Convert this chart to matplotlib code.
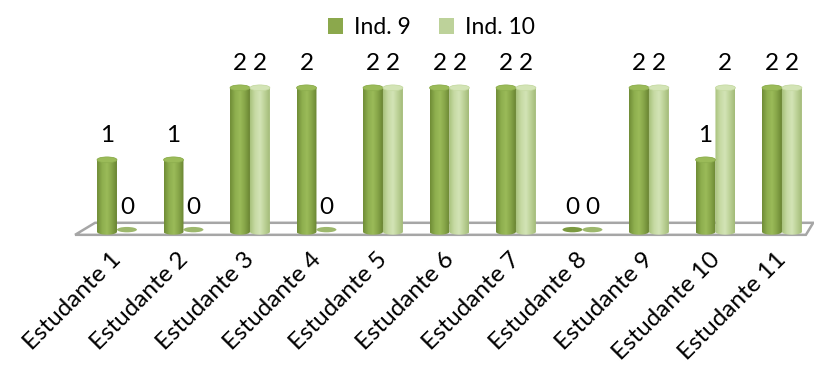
import numpy as np
import matplotlib.pyplot as plt
from matplotlib.patches import Polygon, Ellipse, Patch
from matplotlib.colors import LinearSegmentedColormap

plt.rcParams['font.family'] = ['Lato', 'DejaVu Sans']

students = ["Estudante %d" % (i + 1) for i in range(11)]
ind9 = [1, 1, 2, 2, 2, 2, 2, 0, 2, 1, 2]
ind10 = [0, 0, 2, 0, 2, 2, 2, 0, 2, 2, 2]
series_names = ["Ind. 9", "Ind. 10"]

# colours: flat legend colour, gradient across the cylinder, flat "zero" disc
flat_colors = ["#8BA84C", "#BDD29A"]
grad_colors = [
    ["#6F8C36", "#8DAE4E", "#9BBB59", "#86A548", "#6A8533"],
    ["#A8C27C", "#C6DAA3", "#D3E4B6", "#BCD196", "#A3BB78"],
]
zero_colors = ["#7B9A40", "#9DB86D"]

bar_w = 0.3
ell_h = 0.08
fs = 17.5

fig = plt.figure(figsize=(8.14, 3.69), dpi=100)
ax = fig.add_axes([0.0906, 0.3523, 0.9068, 0.4878])


def cylinder(ax, xc, h, colors):
    cmap = LinearSegmentedColormap.from_list("g", colors)
    x0, x1 = xc - bar_w / 2, xc + bar_w / 2
    t = np.linspace(0, np.pi, 40)
    # outline: bottom half ellipse, right side, top half ellipse, left side
    bx = xc - np.cos(t) * bar_w / 2
    by = -np.sin(t) * ell_h / 2
    tx = xc + np.cos(t) * bar_w / 2
    ty = h + np.sin(t) * ell_h / 2
    pts = np.column_stack([np.concatenate([bx, tx]), np.concatenate([by, ty])])
    clip = Polygon(pts, closed=True, facecolor="none", edgecolor="none")
    ax.add_patch(clip)
    grad = np.linspace(0, 1, 64).reshape(1, -1)
    im = ax.imshow(grad, cmap=cmap, extent=[x0, x1, -ell_h, h + ell_h],
                   aspect="auto", zorder=3, interpolation="bilinear")
    im.set_clip_path(clip)
    top = Ellipse((xc, h), bar_w, ell_h, facecolor=colors[2], edgecolor=colors[1],
                  lw=0.5, zorder=4)
    ax.add_patch(top)


# floor
xl, xr = -0.65, 10.45
floor = Polygon([[-0.63, -0.042], [-0.33, 0.125], [10.47, 0.125], [10.36, -0.042]],
                closed=True, facecolor="white", edgecolor="#A6A6A6", lw=1.8,
                zorder=1, clip_on=False)
ax.add_patch(floor)

for s, vals in enumerate([ind9, ind10]):
    off = -bar_w / 2 if s == 0 else bar_w / 2
    for i, v in enumerate(vals):
        xc = i + off
        if v > 0:
            cylinder(ax, xc, v, grad_colors[s])
        else:
            ax.add_patch(Ellipse((xc, 0.03), bar_w, 0.075, facecolor=zero_colors[s],
                                 edgecolor="none", zorder=2))
        ax.text(xc, v + 0.34, str(v), ha="center", va="center", fontsize=fs,
                color="black", zorder=5)

ax.set_xlim(xl, xr)
ax.set_ylim(-0.1, 2.4)
ax.set_yticks([])
ax.set_xticks(np.arange(len(students)) - 0.1)
ax.set_xticklabels(students, rotation=45, ha="right", rotation_mode="anchor",
                   fontsize=fs)
ax.tick_params(axis="x", length=0, pad=7)
for sp in ax.spines.values():
    sp.set_visible(False)
ax.patch.set_alpha(0)

handles = [Patch(facecolor=flat_colors[k], edgecolor="none", label=series_names[k])
           for k in range(2)]
fig.legend(handles=handles, loc="upper center", bbox_to_anchor=(0.53, 1.01), ncol=2,
           frameon=False, fontsize=16.5, handlelength=0.65, handleheight=0.65,
           handletextpad=0.5, columnspacing=1.2)

fig.savefig("out.png", dpi=100)
